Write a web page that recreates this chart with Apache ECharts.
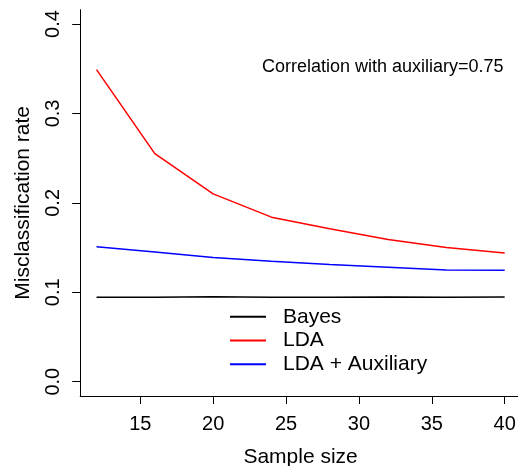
<!DOCTYPE html>
<html>
<head>
<meta charset="utf-8">
<script src="https://cdn.jsdelivr.net/npm/echarts@6/dist/echarts.min.js"></script>
<style>
  html, body { margin: 0; padding: 0; background: #fff; }
  #main { width: 518px; height: 466px; }
</style>
</head>
<body>
<div id="main"></div>
<script>
  const sampleSize = [12, 16, 20, 24, 28, 32, 36, 40]
  const bayes = [0.0945, 0.0945, 0.095, 0.0945, 0.0945, 0.0948, 0.0945, 0.0948]
  const lda = [0.349, 0.255, 0.210, 0.184, 0.171, 0.159, 0.150, 0.144]
  const ldaAux = [0.151, 0.145, 0.139, 0.1347, 0.131, 0.128, 0.125, 0.1247]
  const xTicks = [15, 20, 25, 30, 35, 40]
  const yTicks = [0, 0.1, 0.2, 0.3, 0.4]

  const font = "'Liberation Sans', Arial, sans-serif"
  const pairs = (ys) => sampleSize.map((x, i) => [x, ys[i]])

  const myChart = echarts.init(document.getElementById('main'))
  const option = {
    animation: false,
    textStyle: { fontFamily: font, color: '#000' },
    grid: { left: 80.2, right: -3, top: 9.7, bottom: 70, containLabel: false, outerBoundsMode: 'none' },
    title: {
      text: 'Correlation with auxiliary=0.75',
      left: 262, top: 58, padding: 0,
      textStyle: { fontFamily: font, fontSize: 18, fontWeight: 'normal', color: '#000' }
    },
    legend: {
      orient: 'vertical',
      left: 230, top: 305,
      itemWidth: 36, itemHeight: 2, itemGap: 0,
      icon: 'rect',
      padding: 0,
      textStyle: { fontFamily: font, fontSize: 21, color: '#000', lineHeight: 23.7, padding: [0, 0, 0, 12] },
      data: ['Bayes', 'LDA', 'LDA + Auxiliary']
    },
    xAxis: {
      type: 'value',
      min: 10.88, max: 41.12,
      name: 'Sample size',
      nameLocation: 'middle', nameGap: 51,
      nameTextStyle: { fontFamily: font, fontSize: 21, color: '#000' },
      splitLine: { show: false },
      axisLine: { onZero: false, lineStyle: { color: '#000', width: 1 } },
      axisTick: { length: 8, lineStyle: { color: '#000' }, customValues: xTicks },
      axisLabel: { fontFamily: font, fontSize: 20, color: '#000', margin: 18, customValues: xTicks }
    },
    yAxis: {
      type: 'value',
      min: -0.016, max: 0.416,
      name: 'Misclassification rate',
      nameLocation: 'middle', nameGap: 46, nameRotate: 90,
      nameTextStyle: { fontFamily: font, fontSize: 21, color: '#000' },
      splitLine: { show: false },
      axisLine: { show: true, onZero: false, lineStyle: { color: '#000', width: 1 } },
      axisTick: { show: true, length: 8, lineStyle: { color: '#000' }, customValues: yTicks },
      axisLabel: {
        fontFamily: font, fontSize: 20, color: '#000', margin: 17, rotate: 90,
        customValues: yTicks,
        formatter: (v) => v.toFixed(1)
      }
    },
    series: [
      { name: 'Bayes', type: 'line', data: pairs(bayes), symbol: 'none', color: '#000000', lineStyle: { width: 1.5 } },
      { name: 'LDA', type: 'line', data: pairs(lda), symbol: 'none', color: '#ff0000', lineStyle: { width: 1.5 } },
      { name: 'LDA + Auxiliary', type: 'line', data: pairs(ldaAux), symbol: 'none', color: '#0000ff', lineStyle: { width: 1.5 } }
    ]
  }
  myChart.setOption(option)
</script>
</body>
</html>
